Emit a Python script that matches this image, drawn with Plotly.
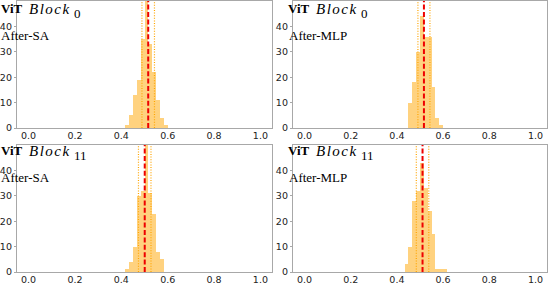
import numpy as np
import plotly.graph_objects as go

W, H = 550, 284

# ---- data ----
bin_width = 1 / 60
titles_block = ["0", "0", "11", "11"]
titles_stage = ["After-SA", "After-MLP", "After-SA", "After-MLP"]

p1_start = 25 / 60
p1_counts = [1, 5, 13, 19, 35, 53, 33, 22, 11, 4, 1]
p1_mean, p1_std = 0.516, 0.027

p2_start = 27 / 60
p2_counts = [10, 18, 30, 44, 36, 36, 16, 4, 1]
p2_mean, p2_std = 0.517, 0.026

p3_start = 25 / 60
p3_counts = [1, 4, 10, 30, 32, 53, 31, 23, 8, 5]
p3_mean, p3_std = 0.501, 0.027

p4_start = 26 / 60
p4_counts = [3, 10, 28, 32, 43, 33, 24, 15, 1, 1, 1]
p4_mean, p4_std = 0.511, 0.027

x_ticks = [0.0, 0.2, 0.4, 0.6, 0.8, 1.0]
y_ticks = [0, 10, 20, 30, 40]

panels = [
    (p1_start, p1_counts, p1_mean, p1_std),
    (p2_start, p2_counts, p2_mean, p2_std),
    (p3_start, p3_counts, p3_mean, p3_std),
    (p4_start, p4_counts, p4_mean, p4_std),
]

# ---- layout in pixels ----
col_x = [(17, 272), (293, 547)]
row_y = [(1, 128), (145, 272)]
row_text = [0, 142]
text_x = [0, 287]


def px_x(v):
    return v / W


def px_y(v):
    return 1 - v / H


fig = go.Figure()
layout = dict(
    width=W, height=H, margin=dict(l=0, r=0, t=0, b=0, pad=0, autoexpand=False),
    paper_bgcolor="white", plot_bgcolor="white", showlegend=False,
    bargap=0,
)
shapes = []
annotations = []
spine = "#a8a8a8"
tickfont = dict(family="DejaVu Sans", size=9.5, color="#222")

for i, (start, counts, mean, std) in enumerate(panels):
    r, c = divmod(i, 2)
    sfx = "" if i == 0 else str(i + 1)
    counts = np.array(counts, dtype=float)
    centers = start + bin_width * (np.arange(len(counts)) + 0.5)
    fig.add_trace(go.Bar(
        x=centers, y=counts, width=bin_width,
        marker=dict(color="rgba(255,165,0,0.5)", line=dict(width=0)),
        xaxis="x" + sfx, yaxis="y" + sfx, hoverinfo="skip",
    ))
    x0, x1 = col_x[c]
    y0, y1 = row_y[r]
    layout["xaxis" + sfx] = dict(
        domain=[px_x(x0), px_x(x1)], range=[-0.05, 1.05], anchor="y" + sfx,
        tickvals=x_ticks, ticktext=[f"{v:.1f}" for v in x_ticks],
        showline=True, mirror=True, linecolor=spine, linewidth=1.3,
        ticks="", showgrid=False,
        zeroline=False, tickfont=tickfont, ticklabelstandoff=-2, automargin=False,
    )
    layout["yaxis" + sfx] = dict(
        domain=[px_y(y1), px_y(y0)], range=[0, 50], anchor="x" + sfx,
        tickvals=y_ticks,
        showline=True, mirror=True, linecolor=spine, linewidth=1.3,
        ticks="outside", ticklen=2, tickcolor=spine, showgrid=False,
        zeroline=False, tickfont=tickfont, ticklabelstandoff=0, automargin=False,
    )
    for v in (mean - std, mean + std):
        shapes.append(dict(type="line", xref="x" + sfx, yref="y" + sfx + " domain",
                           x0=v, x1=v, y0=0, y1=1,
                           line=dict(color="#FFA500", width=1.2, dash="1px,1.6px")))
    shapes.append(dict(type="line", xref="x" + sfx, yref="y" + sfx + " domain",
                       x0=mean, x1=mean, y0=0, y1=1,
                       line=dict(color="#EE0000", width=2, dash="5px,2.4px")))

    tx = text_x[c]
    ty = row_text[r]
    annotations.append(dict(
        x=px_x(tx), y=px_y(ty), xref="paper", yref="paper",
        xanchor="left", yanchor="top", showarrow=False, text="<b>ViT</b>",
        font=dict(family="Liberation Serif", size=13, color="black"), borderpad=0))
    annotations.append(dict(
        x=px_x(tx + 28), y=px_y(ty), xref="paper", yref="paper",
        xanchor="left", yanchor="top", showarrow=False,
        text="<i><span style='letter-spacing:1.5px'>Block</span></i>",
        font=dict(family="Liberation Serif", size=15, color="black"), borderpad=0))
    annotations.append(dict(
        x=px_x(tx + 73), y=px_y(ty + 5), xref="paper", yref="paper",
        xanchor="left", yanchor="top", showarrow=False,
        text=titles_block[i],
        font=dict(family="Liberation Serif", size=13, color="black"), borderpad=0))
    annotations.append(dict(
        x=px_x(tx + (0 if c == 0 else 1)), y=px_y(ty + 27), xref="paper", yref="paper",
        xanchor="left", yanchor="top", showarrow=False,
        text=titles_stage[i],
        font=dict(family="Liberation Serif", size=13, color="black"), borderpad=0))

layout["shapes"] = shapes
layout["annotations"] = annotations
fig.update_layout(**layout)
fig.write_html("out.html", config={"displayModeBar": False},
               post_script="document.body.style.margin='0';")
